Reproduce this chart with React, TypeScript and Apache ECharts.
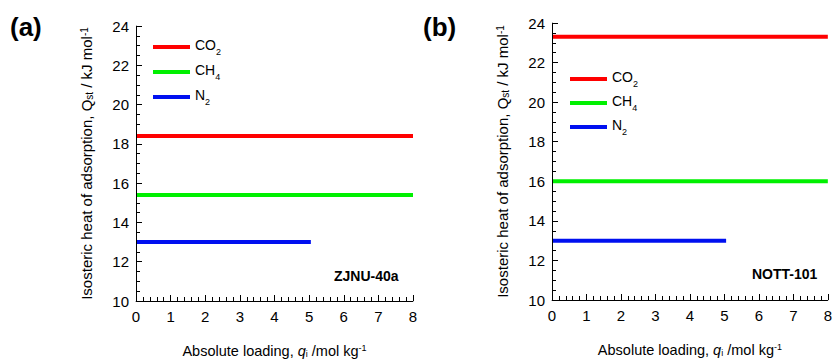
import React, { useEffect, useRef } from "react";
import * as echarts from "echarts";

// Absolute loading range (mol/kg) for each gas line
const loadingFull = [0, 8];
const loadingN2 = [0, 5.05];

// Isosteric heats of adsorption (kJ/mol), panel (a) ZJNU-40a
const qstA = { CO2: 18.4, CH4: 15.4, N2: 13.0 };
// Panel (b) NOTT-101
const qstB = { CO2: 23.3, CH4: 16.0, N2: 13.0 };

const gases = ["CO2", "CH4", "N2"];
const gasLabels: Record<string, string> = {
  CO2: "{m|CO}{s|2}",
  CH4: "{m|CH}{s|4}",
  N2: "{m|N}{s|2}",
};
const gasColors: Record<string, string> = {
  CO2: "#ff0000",
  CH4: "#00f000",
  N2: "#0010f0",
};
const xTicks = [0, 8];
const yRange = [10, 24];

const FONT = "Liberation Sans, Arial, sans-serif";

export default function App() {
  const ref = useRef<HTMLDivElement>(null);

  useEffect(() => {
    if (!ref.current) return;
    const chart = echarts.init(ref.current, null, { renderer: "svg" });

    const grids = [
      { left: 136, top: 26, width: 277, height: 277 },
      { left: 552, top: 23, width: 278, height: 277 },
    ];

    const xName = {
      name: "Absolute loading, {i|q}{sub|i} /mol kg{sup|-1}",
      nameLocation: "middle" as const,
      nameGap: 42,
      nameTextStyle: {
        color: "#000",
        fontFamily: FONT,
        fontSize: 14.5,
        rich: {
          i: { fontFamily: FONT, fontSize: 14.5, fontStyle: "italic", color: "#000" },
          sub: { fontFamily: FONT, fontSize: 9, verticalAlign: "bottom", color: "#000" },
          sup: { fontFamily: FONT, fontSize: 9, verticalAlign: "top", color: "#000" },
        },
      },
    };
    const yName = {
      name: "Isosteric heat of adsorption, Q{sub|st} / kJ mol{sup|-1}",
      nameLocation: "middle" as const,
      nameGap: 42,
      nameTextStyle: {
        color: "#000",
        fontFamily: FONT,
        fontSize: 15,
        rich: {
          sub: { fontFamily: FONT, fontSize: 10, verticalAlign: "bottom", color: "#000" },
          sup: { fontFamily: FONT, fontSize: 10, verticalAlign: "top", color: "#000" },
        },
      },
    };
    const labelStyle = (margin: number) => ({ color: "#000", fontFamily: FONT, fontSize: 15, margin });

    const xAxis = (gridIndex: number) => ({
      type: "value",
      gridIndex,
      min: xTicks[0],
      max: xTicks[1],
      interval: 1,
      splitLine: { show: false },
      axisTick: { show: true, inside: true, length: 6, lineStyle: { color: "#000" } },
      minorTick: { show: true, splitNumber: 5, length: 4, lineStyle: { color: "#000" } },
      axisLabel: labelStyle(8),
      ...xName,
    });

    const yAxis = (gridIndex: number) => ({
      type: "value",
      gridIndex,
      min: yRange[0],
      max: yRange[1],
      interval: 2,
      splitLine: { show: false },
      axisTick: { show: true, inside: true, length: 6, lineStyle: { color: "#000" } },
      minorTick: { show: true, splitNumber: 4, length: 4, lineStyle: { color: "#000" } },
      axisLabel: labelStyle(7),
      ...yName,
    });

    // Black frame lines along the left (x = min) and bottom (y = min) edges of each plot
    const frameLines = {
      silent: true,
      symbol: ["none", "none"],
      label: { show: false },
      lineStyle: { color: "#000", width: 1, type: "solid" as const },
      emphasis: { disabled: true },
      data: [{ xAxis: xTicks[0] }, { yAxis: yRange[0] }],
    };

    const makeSeries = (qst: Record<string, number>, idx: number) =>
      gases.map((g, i) => {
        const xs = g === "N2" ? loadingN2 : loadingFull;
        return {
          name: g,
          type: "line" as const,
          xAxisIndex: idx,
          yAxisIndex: idx,
          data: xs.map((x) => [x, qst[g]]),
          showSymbol: false,
          symbol: "none",
          color: gasColors[g],
          lineStyle: { width: 4, color: gasColors[g] },
          clip: false,
          ...(i === 0 ? { markLine: frameLines } : {}),
        };
      });

    const legendBase = (left: number, top: number, gap: number) => ({
      orient: "vertical" as const,
      left,
      top,
      padding: 0,
      itemGap: gap,
      itemWidth: 37,
      itemHeight: 4,
      icon: "rect",
      data: gases,
      selectedMode: false,
      formatter: (name: string) => gasLabels[name],
      textStyle: {
        color: "#000",
        fontFamily: FONT,
        fontSize: 14,
        rich: {
          m: { fontFamily: FONT, fontSize: 14, color: "#000", lineHeight: 18, verticalAlign: "top" },
          s: { fontFamily: FONT, fontSize: 9, color: "#000", verticalAlign: "bottom" },
        },
      },
    });

    chart.setOption({
      animation: false,
      backgroundColor: "#fff",
      grid: grids,
      xAxis: [xAxis(0), xAxis(1)],
      yAxis: [yAxis(0), yAxis(1)],
      legend: [legendBase(153, 38, 7), legendBase(570, 70, 6)],
      series: [...makeSeries(qstA, 0), ...makeSeries(qstB, 1)],
      graphic: [
        {
          type: "text",
          left: 10,
          top: 14,
          style: { text: "(a)", fontFamily: FONT, fontWeight: "bold", fontSize: 26, fill: "#000" },
        },
        {
          type: "text",
          left: 423,
          top: 14,
          style: { text: "(b)", fontFamily: FONT, fontWeight: "bold", fontSize: 26, fill: "#000" },
        },
        {
          type: "text",
          left: 334,
          top: 269,
          style: { text: "ZJNU-40a", fontFamily: FONT, fontWeight: "bold", fontSize: 14, fill: "#000" },
        },
        {
          type: "text",
          left: 752,
          top: 267,
          style: { text: "NOTT-101", fontFamily: FONT, fontWeight: "bold", fontSize: 14, fill: "#000" },
        },
      ],
    });

    return () => chart.dispose();
  }, []);

  return <div ref={ref} style={{ width: 835, height: 363, position: "absolute", left: 0, top: 0 }} />;
}
